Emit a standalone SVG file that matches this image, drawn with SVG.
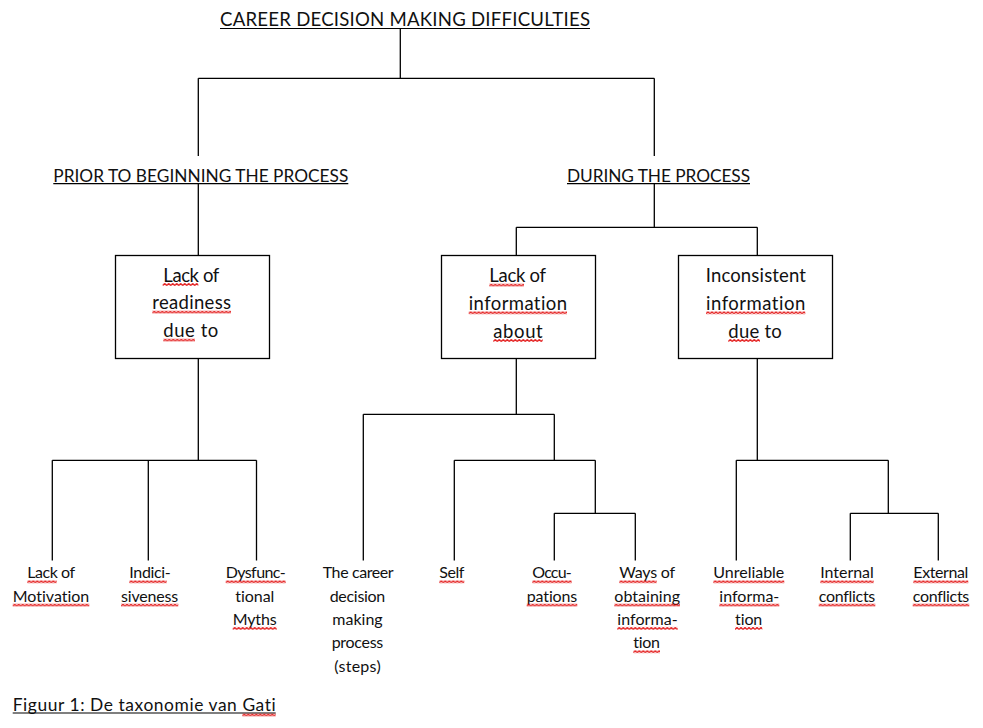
<svg xmlns="http://www.w3.org/2000/svg" width="983" height="728" viewBox="0 0 983 728">
<defs>
<pattern id="sq" width="4" height="3" patternUnits="userSpaceOnUse">
<path d="M0 2.5 L2 0.5 L4 2.5" fill="none" stroke="#e00000" stroke-width="1.1"/>
</pattern>
</defs>
<style>
text{font-family:Lato,"Liberation Sans",sans-serif;fill:#111;font-variant-ligatures:none}
.h{font-size:17.3px}
.t{font-size:18.6px}
.b{font-size:18.5px}
.s{font-size:16px}
.c{font-size:17.4px}
.ln{fill:none;stroke:#000;stroke-width:1.3}
.box{fill:#fff;stroke:#000;stroke-width:1.3}
.ul{stroke:#000;stroke-width:1.1}
.sq{fill:url(#sq)}
</style>
<rect width="983" height="728" fill="#fff"/>

<g id="connectors" class="ln">
<path d="M400.3 29 V78.3 M198.3 78.3 H654.3 M198.3 78.3 V156 M654.3 78.3 V156"/>
<path d="M198.3 184 V255.5 M654.3 184 V227.3 M516.3 227.3 H757.3 M516.3 227.3 V255.5 M757.3 227.3 V255.5"/>
<path d="M198.3 358.5 V460.3 M52.3 460.3 H256.5 M52.3 460.3 V560.5 M148.3 460.3 V560.5 M256.5 460.3 V560.5"/>
<path d="M516.3 358.5 V414.3 M363.3 414.3 H554.3 M363.3 414.3 V560.5 M554.3 414.3 V460.3 M454.3 460.3 H595.3 M454.3 460.3 V560.5 M595.3 460.3 V513.3 M554.3 513.3 H635.3 M554.3 513.3 V560.5 M635.3 513.3 V560.5"/>
<path d="M757.3 358.5 V460.3 M736.3 460.3 H888.3 M736.3 460.3 V560.5 M888.3 460.3 V513.3 M850.3 513.3 H938.3 M850.3 513.3 V560.5 M938.3 513.3 V560.5"/>
</g>

<g id="title">
<text class="t" x="220" y="26" textLength="370">CAREER DECISION MAKING DIFFICULTIES</text>
<line class="ul" x1="220" y1="28.5" x2="590" y2="28.5"/>
</g>

<g id="prior">
<text class="h" x="53.3" y="181.5" textLength="295">PRIOR TO BEGINNING THE PROCESS</text>
<line class="ul" x1="53.3" y1="183.6" x2="348.3" y2="183.6"/>
</g>

<g id="during">
<text class="h" x="567" y="181.5" textLength="183">DURING THE PROCESS</text>
<line class="ul" x1="567" y1="183.6" x2="750" y2="183.6"/>
</g>

<g id="box-readiness">
<rect class="box" x="115.5" y="255.5" width="154" height="103"/>
<text class="b" x="163.3" y="281.7" textLength="56">Lack of</text>
<text class="b" x="152.3" y="309.3" textLength="78.7">readiness</text>
<text class="b" x="163.3" y="337.3" textLength="55">due to</text>
<rect class="sq" transform="translate(162.7 283)" width="35.6" height="3"/>
<rect class="sq" transform="translate(152.3 310.6)" width="78.7" height="3"/>
<rect class="sq" transform="translate(163.3 338.6)" width="31.7" height="3"/>
</g>

<g id="box-lack-info">
<rect class="box" x="441.5" y="255.5" width="154" height="103"/>
<text class="b" x="489.3" y="282.3" textLength="56.7">Lack of</text>
<text class="b" x="468.7" y="310" textLength="98.3">information</text>
<text class="b" x="493.3" y="337.7" textLength="49.4">about</text>
<rect class="sq" transform="translate(489.3 283.6)" width="34.7" height="3"/>
<rect class="sq" transform="translate(468.7 311.3)" width="98.3" height="3"/>
<rect class="sq" transform="translate(493.3 339)" width="49.4" height="3"/>
</g>

<g id="box-inconsistent">
<rect class="box" x="678.5" y="255.5" width="154" height="103"/>
<text class="b" x="705.7" y="282.3" textLength="100.3">Inconsistent</text>
<text class="b" x="706" y="310" textLength="99.3">information</text>
<text class="b" x="728.3" y="337.7" textLength="53.4">due to</text>
<rect class="sq" transform="translate(706 311.3)" width="99.3" height="3"/>
<rect class="sq" transform="translate(728.3 339)" width="31.7" height="3"/>
</g>

<g id="leaf-motivation">
<text class="s" x="27.3" y="578.3" textLength="47.7">Lack of</text>
<text class="s" x="12.7" y="601.6" textLength="76.6">Motivation</text>
<rect class="sq" transform="translate(27.3 580.3)" width="29.4" height="3"/>
<rect class="sq" transform="translate(12.7 603.6)" width="76.6" height="3"/>
</g>

<g id="leaf-indecisiveness">
<text class="s" x="129.3" y="578.3" textLength="41.4">Indici-</text>
<text class="s" x="121" y="601.6" textLength="57.3">siveness</text>
<rect class="sq" transform="translate(129.3 580.3)" width="37.4" height="3"/>
<rect class="sq" transform="translate(121 603.6)" width="57.3" height="3"/>
</g>

<g id="leaf-myths">
<text class="s" x="225.7" y="578.3" textLength="60">Dysfunc-</text>
<text class="s" x="235.3" y="601.6" textLength="39">tional</text>
<text class="s" x="232.7" y="624.9" textLength="44">Myths</text>
<rect class="sq" transform="translate(225.7 580.3)" width="60" height="3"/>
<rect class="sq" transform="translate(232.7 626.9)" width="44" height="3"/>
</g>

<g id="leaf-process">
<text class="s" x="322.7" y="578.3" textLength="71">The career</text>
<text class="s" x="329.7" y="601.6" textLength="55.6">decision</text>
<text class="s" x="332.3" y="624.9" textLength="50.4">making</text>
<text class="s" x="331.7" y="648.2" textLength="51.6">process</text>
<text class="s" x="334.3" y="671.5" textLength="46.4">(steps)</text>
</g>

<g id="leaf-self">
<text class="s" x="439.3" y="578.3" textLength="25">Self</text>
<rect class="sq" transform="translate(439.3 580.3)" width="25" height="3"/>
</g>

<g id="leaf-occupations">
<text class="s" x="532.3" y="578.3" textLength="39.4">Occu-</text>
<text class="s" x="526.7" y="601.6" textLength="50.6">pations</text>
<rect class="sq" transform="translate(532.3 580.3)" width="39.4" height="3"/>
<rect class="sq" transform="translate(526.7 603.6)" width="50.6" height="3"/>
</g>

<g id="leaf-ways">
<text class="s" x="619.3" y="578.3" textLength="55.7">Ways of</text>
<text class="s" x="614.3" y="601.6" textLength="65.7">obtaining</text>
<text class="s" x="617.3" y="624.9" textLength="60.4">informa-</text>
<text class="s" x="633.3" y="648.2" textLength="26.7">tion</text>
<rect class="sq" transform="translate(619.3 580.3)" width="37.4" height="3"/>
<rect class="sq" transform="translate(614.3 603.6)" width="65.7" height="3"/>
<rect class="sq" transform="translate(617.3 626.9)" width="60.4" height="3"/>
<rect class="sq" transform="translate(633.3 650.2)" width="26.7" height="3"/>
</g>

<g id="leaf-unreliable">
<text class="s" x="713.3" y="578.3" textLength="71">Unreliable</text>
<text class="s" x="719.3" y="601.6" textLength="60">informa-</text>
<text class="s" x="735" y="624.9" textLength="27.3">tion</text>
<rect class="sq" transform="translate(713.3 580.3)" width="71" height="3"/>
<rect class="sq" transform="translate(719.3 603.6)" width="60" height="3"/>
<rect class="sq" transform="translate(735 626.9)" width="27.3" height="3"/>
</g>

<g id="leaf-internal">
<text class="s" x="820.3" y="578.3" textLength="53.4">Internal</text>
<text class="s" x="818.7" y="601.6" textLength="56.6">conflicts</text>
<rect class="sq" transform="translate(820.3 580.3)" width="53.4" height="3"/>
<rect class="sq" transform="translate(818.7 603.6)" width="56.6" height="3"/>
</g>

<g id="leaf-external">
<text class="s" x="913.3" y="578.3" textLength="55">External</text>
<text class="s" x="912.7" y="601.6" textLength="56.6">conflicts</text>
<rect class="sq" transform="translate(913.3 580.3)" width="55" height="3"/>
<rect class="sq" transform="translate(912.7 603.6)" width="56.6" height="3"/>
</g>

<g id="caption">
<text class="c" x="12.7" y="710.7" textLength="263">Figuur 1: De taxonomie van Gati</text>
<line class="ul" x1="12.7" y1="713" x2="275.7" y2="713"/>
<rect class="sq" transform="translate(242.3 713.5)" width="33.4" height="3"/>
</g>
</svg>
